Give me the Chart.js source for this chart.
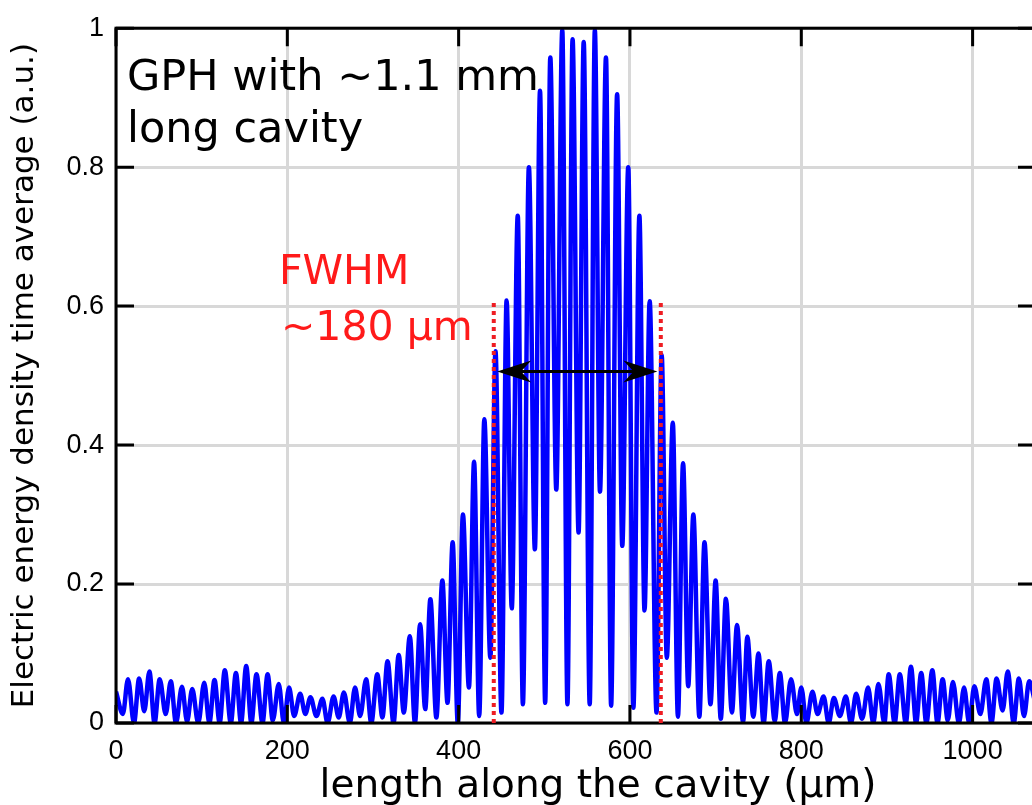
<!DOCTYPE html>
<html>
<head>
<meta charset="utf-8">
<title>GPH cavity field</title>
<script src="https://cdn.jsdelivr.net/npm/chart.js@4.4.0/dist/chart.umd.min.js"></script>
<style>
  html, body { margin: 0; padding: 0; background: #fff; overflow: hidden; }
  #wrap { width: 1040px; height: 805px; }
</style>
</head>
<body>
<div id="wrap"><canvas id="cavity" width="1040" height="805"></canvas></div>
<script>
// positions along the cavity (um), alternating troughs / peaks
const posUm = [
  0, 8, 14, 21, 27, 33, 39, 45, 51, 58, 64, 70, 77, 83, 89, 96, 103, 109, 115, 121,
  127, 134, 140, 146, 152, 158, 164, 171, 177, 183, 190, 196, 202, 208, 215, 221, 227, 234, 241, 247,
  254, 260, 266, 273, 279, 285, 292, 298, 305, 311, 317, 324, 330, 336, 343, 349, 355, 361, 367, 374,
  381, 387, 393, 399, 405, 412, 418, 424, 430, 437, 443, 450, 456, 462, 469, 475, 482, 489, 495, 501,
  507, 514, 521, 527, 533, 540, 546, 553, 559, 565, 572, 578, 585, 591, 598, 604, 611, 617, 623, 631,
  637, 643, 650, 656, 662, 668, 674, 681, 687, 694, 700, 706, 712, 719, 725, 732, 737, 744, 750, 756,
  762, 769, 775, 781, 788, 795, 800, 806, 813, 819, 826, 832, 838, 845, 852, 858, 864, 871, 878, 884,
  890, 897, 902, 909, 915, 922, 928, 934, 940, 946, 953, 959, 965, 971, 977, 984, 990, 996, 1002, 1009,
  1016, 1022, 1028, 1035, 1041, 1048, 1054, 1060, 1066, 1073
];
const energy = [
  0.045, 0.013, 0.063, 0.0, 0.064, 0.017, 0.074, 0.0, 0.063, 0.013, 0.060, 0.0, 0.052, 0.002, 0.049, 0.0, 0.058, 0.0, 0.062, 0.0,
  0.076, 0.0, 0.072, 0.0, 0.082, 0.0, 0.070, 0.0, 0.070, 0.004, 0.056, 0.0, 0.051, 0.010, 0.042, 0.013, 0.037, 0.010, 0.035, 0.0,
  0.038, 0.008, 0.044, 0.0, 0.051, 0.010, 0.063, 0.0, 0.070, 0.008, 0.089, 0.0, 0.098, 0.015, 0.125, 0.0, 0.142, 0.020, 0.178, 0.008,
  0.205, 0.029, 0.260, 0.0, 0.300, 0.051, 0.376, 0.010, 0.437, 0.094, 0.535, 0.015, 0.608, 0.165, 0.730, 0.027, 0.800, 0.250, 0.910, 0.029,
  0.958, 0.336, 0.997, 0.027, 0.984, 0.274, 0.980, 0.027, 0.997, 0.333, 0.958, 0.025, 0.905, 0.255, 0.800, 0.022, 0.730, 0.162, 0.607, 0.015,
  0.530, 0.094, 0.432, 0.009, 0.374, 0.053, 0.300, 0.009, 0.260, 0.027, 0.205, 0.006, 0.179, 0.015, 0.141, 0.001, 0.124, 0.009, 0.100, 0.0,
  0.089, 0.003, 0.072, 0.0, 0.063, 0.013, 0.051, 0.0, 0.045, 0.013, 0.038, 0.0, 0.036, 0.010, 0.038, 0.0, 0.042, 0.006, 0.051, 0.0,
  0.056, 0.0, 0.070, 0.0, 0.070, 0.0, 0.081, 0.0, 0.072, 0.0, 0.076, 0.0, 0.063, 0.004, 0.059, 0.0, 0.051, 0.0, 0.053, 0.013,
  0.063, 0.0, 0.064, 0.018, 0.074, 0.0, 0.064, 0.010, 0.060, 0.030
];

const xTicks = [0, 200, 400, 600, 800, 1000];
const xTickLabels = ['0', '200', '400', '600', '800', '1000'];
const yTicks = [0, 0.2, 0.4, 0.6, 0.8, 1];
const yTickLabels = ['0', '0.2', '0.4', '0.6', '0.8', '1'];

// FWHM markers (um / a.u.)
const fwhmEdges = [441, 636];
const fwhmTop = 0.61;
const arrowEnds = [445, 632];
const arrowLevel = 0.506;

const noteLines = ['GPH with ~1.1 mm', 'long cavity'];
const fwhmLines = ['FWHM', '~180 \u00b5m'];

const points = posUm.map((p, i) => ({ x: p, y: energy[i] }));

function arrowHead(ctx, tipX, tipY, dir) {
  const len = 34, half = 11;
  ctx.beginPath();
  ctx.moveTo(tipX, tipY);
  ctx.lineTo(tipX + dir * len, tipY - half);
  ctx.lineTo(tipX + dir * len * 0.7, tipY);
  ctx.lineTo(tipX + dir * len, tipY + half);
  ctx.closePath();
  ctx.fill();
}

const overlay = {
  id: 'overlay',
  afterDatasetsDraw(chart) {
    const { ctx, chartArea: a } = chart;
    const xs = chart.scales.x, ys = chart.scales.y;
    ctx.save();

    // frame + inward ticks
    ctx.strokeStyle = '#000';
    ctx.lineWidth = 3;
    ctx.strokeRect(a.left, a.top, a.right - a.left, a.bottom - a.top);
    const tl = 18;
    ctx.beginPath();
    xTicks.forEach(v => {
      const px = xs.getPixelForValue(v);
      ctx.moveTo(px, a.bottom); ctx.lineTo(px, a.bottom - tl);
      ctx.moveTo(px, a.top); ctx.lineTo(px, a.top + tl);
    });
    yTicks.forEach(v => {
      const py = ys.getPixelForValue(v);
      ctx.moveTo(a.left, py); ctx.lineTo(a.left + tl, py);
      ctx.moveTo(a.right, py); ctx.lineTo(a.right - tl, py);
    });
    ctx.stroke();

    // FWHM dotted lines
    ctx.strokeStyle = '#ee1d23';
    ctx.lineWidth = 4;
    ctx.setLineDash([4, 4]);
    fwhmEdges.forEach(v => {
      const px = xs.getPixelForValue(v);
      ctx.beginPath();
      ctx.moveTo(px, ys.getPixelForValue(0));
      ctx.lineTo(px, ys.getPixelForValue(fwhmTop));
      ctx.stroke();
    });
    ctx.setLineDash([]);

    // double arrow
    const ay = ys.getPixelForValue(arrowLevel);
    const ax0 = xs.getPixelForValue(arrowEnds[0]);
    const ax1 = xs.getPixelForValue(arrowEnds[1]);
    ctx.strokeStyle = '#000';
    ctx.fillStyle = '#000';
    ctx.lineWidth = 3;
    ctx.beginPath();
    ctx.moveTo(ax0 + 20, ay); ctx.lineTo(ax1 - 20, ay);
    ctx.stroke();
    arrowHead(ctx, ax0, ay, 1);
    arrowHead(ctx, ax1, ay, -1);

    // notes
    ctx.textAlign = 'left';
    ctx.textBaseline = 'alphabetic';
    ctx.fillStyle = '#000';
    ctx.font = '43px "DejaVu Sans"';
    ctx.fillText(noteLines[0], 127, 90);
    ctx.fillText(noteLines[1], 127, 142);
    ctx.fillStyle = '#ff1a1a';
    ctx.font = '41px "DejaVu Sans"';
    ctx.fillText(fwhmLines[0], 279, 284);
    ctx.fillText(fwhmLines[1], 281, 340);

    // x axis title
    ctx.fillStyle = '#000';
    ctx.textAlign = 'center';
    ctx.font = '39px "DejaVu Sans"';
    ctx.fillText('length along the cavity (\u00b5m)', 598, 797);
    ctx.restore();
  }
};

new Chart(document.getElementById('cavity'), {
  type: 'line',
  data: {
    datasets: [{
      data: points,
      borderColor: '#0000ff',
      borderWidth: 4.5,
      pointRadius: 0,
      fill: false,
      cubicInterpolationMode: 'monotone'
    }]
  },
  options: {
    responsive: false,
    animation: false,
    layout: { padding: { top: 22, right: 4, left: 0, bottom: 0 } },
    plugins: { legend: { display: false }, tooltip: { enabled: false } },
    scales: {
      x: {
        type: 'linear',
        min: 0,
        max: 1074,
        afterBuildTicks: s => { s.ticks = xTicks.map(v => ({ value: v })); },
        afterFit: s => { s.height = 82; },
        grid: { color: '#d8d8d8', lineWidth: 3, drawTicks: false },
        border: { display: false },
        ticks: {
          padding: 12,
          color: '#000',
          maxRotation: 0,
          font: { family: '"Liberation Sans Narrow", "Liberation Sans"', size: 27 },
          callback: (v, i) => xTickLabels[i]
        }
      },
      y: {
        min: 0,
        max: 1,
        afterBuildTicks: s => { s.ticks = yTicks.map(v => ({ value: v })); },
        afterFit: s => { s.width = 116; },
        grid: { color: '#d8d8d8', lineWidth: 3, drawTicks: false },
        border: { display: false },
        ticks: {
          padding: 12,
          color: '#000',
          font: { family: '"Liberation Sans"', size: 27 },
          callback: (v, i) => yTickLabels[i]
        },
        title: {
          display: true,
          text: 'Electric energy density time average (a.u.)',
          color: '#000',
          font: { family: '"DejaVu Sans"', size: 31 },
          padding: { top: 6, bottom: 0 }
        }
      }
    }
  },
  plugins: [overlay]
});
</script>
</body>
</html>
